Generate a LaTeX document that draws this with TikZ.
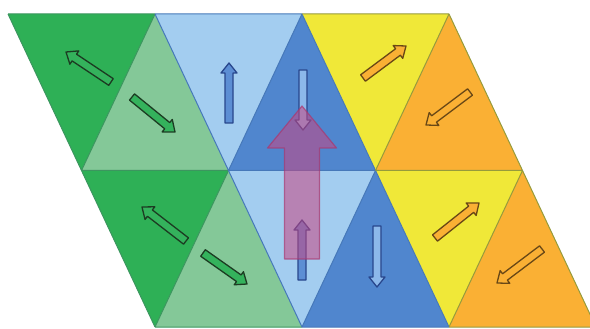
\documentclass[tikz,border=0pt]{standalone}
\usetikzlibrary{calc}

\definecolor{gdark}{RGB}{46,176,86}
\definecolor{glight}{RGB}{132,200,152}
\definecolor{bl}{RGB}{163,205,240}
\definecolor{bm}{RGB}{80,134,206}
\definecolor{ye}{RGB}{240,232,56}
\definecolor{orng}{RGB}{250,176,52}
\definecolor{gedge}{RGB}{60,150,95}
\definecolor{bedge}{RGB}{70,120,185}
\definecolor{yedge}{RGB}{150,155,60}
\definecolor{garrow}{RGB}{52,178,92}
\definecolor{goutline}{RGB}{28,60,34}
\definecolor{barrow}{RGB}{92,142,212}
\definecolor{barrowlight}{RGB}{140,184,234}
\definecolor{boutline}{RGB}{40,70,140}
\definecolor{ooutline}{RGB}{105,72,22}
\definecolor{spin}{RGB}{200,70,130}
\definecolor{spinedge}{RGB}{170,55,110}

% block arrow: tail, tip, shaft half width, head half width, head length, style
\newcommand\blockarrow[6]{%
  \path (#2) coordinate (bh) ($(#2)!#5!(#1)$) coordinate (bn);
  \draw[#6] ($(#1)!#3!90:(#2)$) -- ($(bn)!#3!90:(bh)$) -- ($(bn)!#4!90:(bh)$)
    -- (bh) -- ($(bn)!#4!-90:(bh)$) -- ($(bn)!#3!-90:(bh)$)
    -- ($(#1)!#3!-90:(#2)$) -- cycle;}

\tikzset{
  grnarrow/.style={fill=garrow, draw=goutline, line width=1.3pt, line join=round},
  bluarrow/.style={fill=#1, draw=boutline, line width=1.3pt, line join=round},
  orarrow/.style={fill=orng, draw=ooutline, line width=1.3pt, line join=round},
  bigarrow/.style={fill=spin, fill opacity=0.55, draw=spinedge, draw opacity=0.7, line width=1.2pt, line join=round}
}

\begin{document}
\begin{tikzpicture}[x=1pt, y=-1pt]
  \useasboundingbox (0,0) rectangle (590,329);
  \clip (0,0) rectangle (590,329);

  % lattice points p<i><j>
  \foreach \i in {0,1,2,3}{
    \foreach \j in {0,1,2}{
      \coordinate (p\i\j) at ({8+147*\i+73.5*\j},{14+156.5*\j});
    }
  }

  % upper row of triangles
  \fill[gdark]  (p00) -- (p10) -- (p01) -- cycle;
  \fill[glight] (p10) -- (p01) -- (p11) -- cycle;
  \fill[bl]     (p10) -- (p20) -- (p11) -- cycle;
  \fill[bm]     (p20) -- (p11) -- (p21) -- cycle;
  \fill[ye]     (p20) -- (p30) -- (p21) -- cycle;
  \fill[orng]   (p30) -- (p21) -- (p31) -- cycle;
  % lower row of triangles
  \fill[gdark]  (p01) -- (p11) -- (p02) -- cycle;
  \fill[glight] (p11) -- (p02) -- (p12) -- cycle;
  \fill[bl]     (p11) -- (p21) -- (p12) -- cycle;
  \fill[bm]     (p21) -- (p12) -- (p22) -- cycle;
  \fill[ye]     (p21) -- (p31) -- (p22) -- cycle;
  \fill[orng]   (p31) -- (p22) -- (p32) -- cycle;

  % cell edges
  \begin{scope}[line width=1pt, line join=round]
    \draw[gedge] (p00) -- (p10) (p01) -- (p11) (p02) -- (p12)
      (p00) -- (p02) (p10) -- (p01) (p11) -- (p02);
    \draw[bedge] (p10) -- (p20) (p11) -- (p21) (p12) -- (p22)
      (p10) -- (p12) (p20) -- (p11) (p21) -- (p12) (p20) -- (p22);
    \draw[yedge] (p20) -- (p30) (p21) -- (p31) (p22) -- (p32)
      (p30) -- (p32) (p30) -- (p21) (p31) -- (p22);
  \end{scope}

  % small moments, upper row
  \blockarrow{111,82}{66,52}{4pt}{8pt}{10pt}{grnarrow}
  \blockarrow{132,97}{175,132}{4pt}{8pt}{10pt}{grnarrow}
  \blockarrow{229,123}{229,63}{4pt}{8pt}{10pt}{bluarrow=barrow}
  \blockarrow{303,70}{303,130}{4pt}{8pt}{10pt}{bluarrow=barrowlight}
  \blockarrow{363,78}{406,46}{4pt}{8pt}{10pt}{orarrow}
  \blockarrow{470,92}{426,125}{4pt}{8pt}{10pt}{orarrow}

  % small moments, lower row
  \blockarrow{186,241}{142,207}{4pt}{8pt}{10pt}{grnarrow}
  \blockarrow{203,253}{247,284}{4pt}{8pt}{10pt}{grnarrow}
  \blockarrow{302,280}{302,220}{4pt}{8pt}{10pt}{bluarrow=barrow}
  \blockarrow{377,226}{377,287}{4pt}{8pt}{10pt}{bluarrow=barrowlight}
  \blockarrow{435,238}{479,203}{4pt}{8pt}{10pt}{orarrow}
  \blockarrow{542,249}{497,283}{4pt}{8pt}{10pt}{orarrow}

  % net moment
  \coordinate (nettail) at (302,259);
  \coordinate (nettip) at (302,106);
  \blockarrow{nettail}{nettip}{17.5pt}{34.5pt}{42pt}{bigarrow}
\end{tikzpicture}
\end{document}
